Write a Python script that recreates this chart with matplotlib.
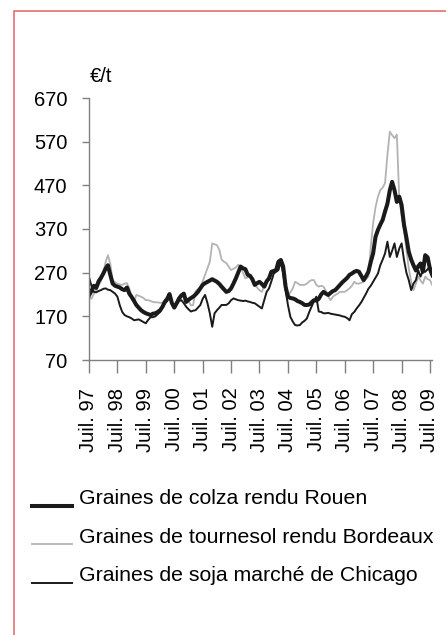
import numpy as np
import pandas as pd
import matplotlib
matplotlib.use("Agg")
import matplotlib.pyplot as plt
from matplotlib.patches import Rectangle
from matplotlib.legend_handler import HandlerLine2D

plt.rcParams['font.family'] = ['Liberation Sans', 'DejaVu Sans']

# prix mensuels en euros/tonne, juillet 1997 -> aout 2009
colza = [218, 228, 240, 235, 250, 258, 268, 280, 287, 265, 245, 240,
         238, 236, 232, 230, 236, 222, 214, 205, 196, 190, 184, 180,
         177, 175, 173, 176, 177, 180, 184, 192, 203, 210, 221, 200,
         190, 200, 211, 218, 222, 203, 208, 212, 215, 220, 226, 234,
         242, 246, 249, 252, 255, 252, 249, 244, 238, 232, 226, 228,
         234, 245, 257, 270, 284, 280, 278, 265, 263, 255, 242, 246,
         249, 244, 238, 250, 257, 272, 274, 276, 295, 299, 284, 238,
         215, 212, 211, 209, 205, 203, 200, 196, 196, 197, 202, 207,
         206, 210, 220, 226, 222, 219, 224, 228, 230, 236, 242, 248,
         253, 258, 265, 268, 272, 274, 272, 262, 253, 262, 272, 295,
         314, 352, 368, 380, 391, 410, 428, 459, 478, 459, 432, 444,
         425, 380, 350, 318, 300, 287, 275, 285, 291, 272, 310, 305,
         278, 264]

tournesol = [215, 210, 222, 230, 240, 250, 270, 295, 310, 290, 253, 248,
             245, 243, 242, 245, 246, 234, 215, 203, 219, 217, 215, 212,
             207, 207, 205, 203, 202, 202, 201, 201, 200, 205, 218, 200,
             196, 205, 215, 219, 219, 200, 205, 195, 196, 228, 232, 234,
             250, 265, 280, 295, 337, 335, 333, 322, 300, 295, 292, 284,
             276, 279, 282, 288, 284, 270, 257, 259, 261, 250, 242, 236,
             230, 226, 240, 253, 258, 265, 272, 275, 295, 297, 280, 245,
             215, 225, 234, 249, 246, 242, 242, 242, 245, 250, 253, 253,
             242, 238, 240, 238, 228, 215, 207, 215, 219, 222, 226, 226,
             226, 230, 234, 240, 249, 245, 245, 247, 249, 255, 261, 330,
             383, 420, 444, 459, 465, 475, 540, 593, 585, 578, 586, 440,
             400, 368, 322, 280, 250, 230, 245, 261, 252, 245, 261, 255,
             253, 241]

soja = [260, 240, 226, 225, 228, 230, 233, 234, 231, 230, 226, 222,
        215, 195, 180, 173, 170, 168, 165, 161, 162, 163, 160, 157,
        154, 162, 168, 168, 170, 175, 180, 190, 200, 205, 215, 200,
        192, 198, 205, 207, 200, 192, 186, 181, 183, 184, 190, 196,
        210, 219, 200, 177, 146, 177, 184, 190, 196, 196, 196, 200,
        207, 211, 209, 207, 206, 205, 206, 204, 203, 201, 200, 196,
        192, 188, 207, 226, 234, 250, 268, 272, 276, 295, 268, 230,
        196, 169, 158, 150, 149, 150, 156, 160, 165, 180, 192, 205,
        215, 181, 180, 177, 177, 178, 176, 175, 174, 173, 172, 170,
        169, 166, 161, 175, 180, 188, 195, 203, 212, 222, 233, 240,
        249, 258, 268, 287, 300, 314, 341, 306, 320, 337, 306, 325,
        337, 299, 270, 253, 230, 245, 253, 275, 261, 275, 272, 278,
        283, 275]

labels = ['Graines de colza rendu Rouen',
          'Graines de tournesol rendu Bordeaux',
          'Graines de soja marché de Chicago']
yticks = [70, 170, 270, 370, 470, 570, 670]
years = ['97', '98', '99', '00', '01', '02', '03', '04', '05', '06', '07', '08', '09']

dates = pd.date_range('1997-07-01', periods=len(colza), freq='MS')
tick_dates = pd.to_datetime(['%d-07-01' % (1997 + i) for i in range(len(years))])


# trait de legende pose sur la ligne de base du texte
class LowLine(HandlerLine2D):
    def create_artists(self, legend, orig_handle, xdescent, ydescent,
                       width, height, fontsize, trans):
        return super().create_artists(legend, orig_handle, xdescent,
                                      ydescent + 13, width, height,
                                      fontsize, trans)


fig = plt.figure(figsize=(4.46, 6.35), dpi=100)
ax = fig.add_axes([89 / 446, 275 / 635, 343.4 / 446, 262 / 635])

l2, = ax.plot(dates, tournesol, color='#b3b3b3', lw=1.3)
l3, = ax.plot(dates, soja, color='#1a1a1a', lw=1.4)
l1, = ax.plot(dates, colza, color='#1a1a1a', lw=2.9, solid_joinstyle='round')

ax.set_ylim(70, 670)
ax.set_xlim(dates[0], dates[-1])
ax.set_yticks(yticks)
ax.set_xticks(tick_dates)
ax.set_xticklabels(['Juil. ' + y for y in years], rotation=90)

for s in ['top', 'right']:
    ax.spines[s].set_visible(False)
for s in ['left', 'bottom']:
    ax.spines[s].set_color('#808080')
    ax.spines[s].set_linewidth(1.0)
ax.tick_params(axis='y', length=5, width=1.0, color='#808080', pad=10.5, labelsize=14.5)
ax.tick_params(axis='x', length=9.4, width=1.0, color='#808080', pad=10.5, labelsize=14.5)

fig.text(90 / 446, 1 - 76 / 635, '€/t', fontsize=14.5, ha='left', va='center')

fig.legend([l1, l2, l3], labels, loc='upper left',
           bbox_to_anchor=(31.7 / 446, 1 - 489 / 635), frameon=False,
           fontsize=15.3, handlelength=1.88, handletextpad=0.36,
           labelspacing=0.92, borderpad=0, borderaxespad=0,
           handler_map={l1: LowLine(), l2: LowLine(), l3: LowLine()})

# cadre rouge
fig.add_artist(Rectangle((14.5 / 446, -0.1), 1.2, 1 - 11 / 635 + 0.1,
                         transform=fig.transFigure, fill=False,
                         edgecolor='#e06666', lw=1.1))

fig.savefig('out.png', dpi=100)
